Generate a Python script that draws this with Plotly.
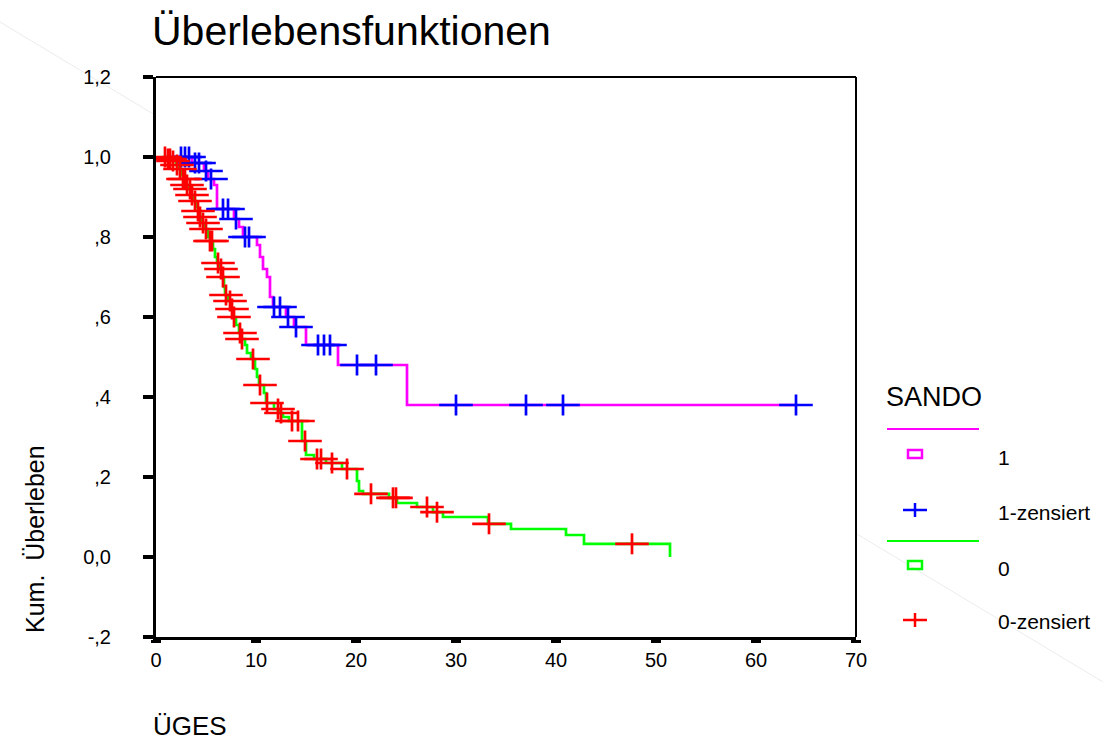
import plotly.graph_objects as go

# ---- data ----
g1_t = [2.3, 3.6, 4.8, 5.2, 5.8, 6.1, 7.8, 8.3, 8.7, 10.1, 10.4, 10.7, 11.1, 11.4, 11.7,
        13.0, 13.8, 15.0, 18.2, 25.1, 64.0]
g1_s = [1.0, 0.985, 0.965, 0.945, 0.93, 0.87, 0.845, 0.825, 0.80, 0.78, 0.75, 0.72, 0.70, 0.65, 0.625,
        0.60, 0.575, 0.53, 0.48, 0.38, 0.38]

c1_t = [2.5, 2.9, 3.3, 3.9, 4.3, 5.0, 5.5, 6.7, 7.2, 8.0, 8.9, 9.3, 11.8, 12.4, 13.2, 14.0,
        16.2, 16.8, 17.4, 20.1, 22.0, 30.0, 37.0, 40.7, 64.0]
c1_s = [1.0, 1.0, 1.0, 0.985, 0.985, 0.965, 0.945, 0.87, 0.87, 0.845, 0.80, 0.80, 0.625, 0.625, 0.60, 0.575,
        0.53, 0.53, 0.53, 0.48, 0.48, 0.38, 0.38, 0.38, 0.38]

g0_t = [0.6, 1.0, 1.6, 2.0, 2.3, 2.5, 2.7, 3.0, 3.3, 3.5, 3.8, 4.0, 4.2, 4.4, 4.6, 4.9, 5.2, 5.4,
        5.7, 5.9, 6.1, 6.4, 6.6, 6.8, 6.9, 7.2, 7.5, 7.7, 8.0, 8.3, 8.5, 8.9, 9.1, 9.5, 9.9, 10.1,
        10.3, 10.8, 11.0, 11.8, 12.4, 12.7, 13.3, 14.6, 15.0, 15.8, 17.0, 18.6, 20.1, 20.3, 20.7,
        23.3, 24.1, 26.1, 27.7, 28.7, 33.2, 35.5, 41.0, 42.8, 51.4]
g0_s = [1.0, 0.995, 0.99, 0.98, 0.97, 0.955, 0.945, 0.93, 0.92, 0.905, 0.89, 0.875, 0.865, 0.85, 0.835,
        0.82, 0.80, 0.79, 0.77, 0.75, 0.735, 0.72, 0.70, 0.675, 0.655, 0.64, 0.62, 0.60, 0.58, 0.56,
        0.545, 0.53, 0.51, 0.495, 0.47, 0.45, 0.43, 0.41, 0.385, 0.37, 0.36, 0.35, 0.34, 0.29, 0.255,
        0.245, 0.235, 0.22, 0.19, 0.165, 0.158, 0.148, 0.135, 0.125, 0.112, 0.10, 0.083, 0.07, 0.055,
        0.033, 0.0]

c0_t = [0.9, 1.2, 1.4, 1.7, 2.1, 2.4, 2.7, 2.9, 3.1, 3.4, 3.6, 3.9, 4.2, 4.4, 4.7, 5.0, 5.4, 5.6,
        6.2, 6.5, 6.7, 7.0, 7.4, 7.6, 7.8, 8.4, 8.6, 9.7, 10.4, 11.1, 12.2, 12.5, 13.6, 14.2, 14.9,
        16.1, 16.5, 17.6, 19.1, 21.5, 23.7, 24.0, 27.1, 28.1, 33.3, 47.6]
c0_s = [1.0, 0.995, 0.995, 0.99, 0.98, 0.97, 0.945, 0.945, 0.93, 0.92, 0.905, 0.89, 0.865, 0.85, 0.835,
        0.82, 0.79, 0.79, 0.735, 0.72, 0.70, 0.655, 0.64, 0.62, 0.60, 0.56, 0.545, 0.495, 0.43, 0.385,
        0.37, 0.36, 0.34, 0.34, 0.29, 0.245, 0.245, 0.235, 0.22, 0.158, 0.148, 0.148, 0.125, 0.112,
        0.083, 0.033]

y_tickvals = [1.2, 1.0, 0.8, 0.6, 0.4, 0.2, 0.0, -0.2]
y_ticktext = ["1,2", "1,0", ",8", ",6", ",4", ",2", "0,0", "-,2"]
x_tickvals = [0, 10, 20, 30, 40, 50, 60, 70]

legend_title = "SANDO"
legend_labels = ["1", "1-zensiert", "0", "0-zensiert"]

MAG, BLUE, GREEN, RED = "#FF00FF", "#0000FF", "#00FF00", "#FF0000"
FONT = "Liberation Sans, Arial, sans-serif"

fig = go.Figure()

# survival step lines
fig.add_trace(go.Scatter(x=g1_t, y=g1_s, mode="lines", line=dict(color=MAG, width=2.7, shape="hv"),
                         hoverinfo="skip", showlegend=False))
fig.add_trace(go.Scatter(x=g0_t, y=g0_s, mode="lines", line=dict(color=GREEN, width=2.7, shape="hv"),
                         hoverinfo="skip", showlegend=False))

# censor marks: wide horizontal bar + shorter vertical bar
for ct, cs, col in [(c1_t, c1_s, BLUE), (c0_t, c0_s, RED)]:
    fig.add_trace(go.Scatter(x=ct, y=cs, mode="markers",
                             marker=dict(symbol="line-ew", size=24, line=dict(color=col, width=2.7)),
                             hoverinfo="skip", showlegend=False))
    fig.add_trace(go.Scatter(x=ct, y=cs, mode="markers",
                             marker=dict(symbol="line-ns", size=15, line=dict(color=col, width=2.7)),
                             hoverinfo="skip", showlegend=False))

L, R, T, B = 156, 247, 77, 104
W, H = 1103, 741
PW, PH = W - L - R, H - T - B


def px(x):
    return (x - L) / PW


def py(y):
    return (H - B - y) / PH


shapes = []
# frame top and right
shapes.append(dict(type="line", xref="paper", yref="paper", x0=0, x1=1, y0=1, y1=1,
                   line=dict(color="black", width=2)))
shapes.append(dict(type="line", xref="paper", yref="paper", x0=1, x1=1, y0=0, y1=1,
                   line=dict(color="black", width=2)))
# faint diagonal background line (outside the plot area)
for (xa, ya, xb, yb) in [(0, 22, 155, 115), (857, 534, 1103, 682)]:
    shapes.append(dict(type="line", xref="paper", yref="paper", x0=px(xa), y0=py(ya), x1=px(xb), y1=py(yb),
                       line=dict(color="#ececec", width=1), layer="below"))

# legend graphics
lx0, lx1, mx = 887, 979, 915
for (ly, col) in [(429, MAG), (541, GREEN)]:
    shapes.append(dict(type="line", xref="paper", yref="paper", x0=px(lx0), x1=px(lx1), y0=py(ly), y1=py(ly),
                       line=dict(color=col, width=2)))
for (ry, col) in [(454, MAG), (565, GREEN)]:
    shapes.append(dict(type="rect", xref="paper", yref="paper", x0=px(mx - 7), x1=px(mx + 7),
                       y0=py(ry + 4), y1=py(ry - 4), line=dict(color=col, width=2.5)))
for (cy, col) in [(510, BLUE), (620, RED)]:
    shapes.append(dict(type="line", xref="paper", yref="paper", x0=px(mx - 12), x1=px(mx + 12),
                       y0=py(cy), y1=py(cy), line=dict(color=col, width=2.5)))
    shapes.append(dict(type="line", xref="paper", yref="paper", x0=px(mx), x1=px(mx),
                       y0=py(cy - 7), y1=py(cy + 7), line=dict(color=col, width=2.5)))

annotations = [
    dict(text="Überlebensfunktionen", xref="paper", yref="paper", x=px(150), y=py(31),
         xanchor="left", yanchor="middle", showarrow=False, font=dict(family=FONT, size=41, color="black")),
    dict(text="Kum.  Überleben", xref="paper", yref="paper", x=px(35), y=py(539), textangle=-90,
         xanchor="center", yanchor="middle", showarrow=False, font=dict(family=FONT, size=25, color="black")),
    dict(text="ÜGES", xref="paper", yref="paper", x=px(151), y=py(726),
         xanchor="left", yanchor="middle", showarrow=False, font=dict(family=FONT, size=26, color="black")),
    dict(text=legend_title, xref="paper", yref="paper", x=px(884), y=py(397),
         xanchor="left", yanchor="middle", showarrow=False, font=dict(family=FONT, size=27, color="black")),
]
for lab, ly in zip(legend_labels, [457, 512, 568, 621]):
    annotations.append(dict(text=lab, xref="paper", yref="paper", x=px(996), y=py(ly),
                            xanchor="left", yanchor="middle", showarrow=False,
                            font=dict(family=FONT, size=21, color="black")))

fig.update_layout(
    width=W, height=H,
    margin=dict(l=L, r=R, t=T, b=B, pad=0),
    paper_bgcolor="white", plot_bgcolor="white",
    showlegend=False,
    shapes=shapes, annotations=annotations,
    font=dict(family=FONT, color="black"),
    xaxis=dict(range=[0, 70], tickvals=x_tickvals, ticktext=[str(v) for v in x_tickvals],
               showgrid=False, zeroline=False, showline=True, linecolor="black", linewidth=3,
               ticks="outside", ticklen=3, tickwidth=10, tickcolor="black",
               tickfont=dict(family=FONT, size=20, color="black")),
    yaxis=dict(range=[-0.2, 1.2], tickvals=y_tickvals, ticktext=y_ticktext,
               showgrid=False, zeroline=False, showline=True, linecolor="black", linewidth=3,
               ticks="outside", ticklen=10, tickwidth=4, tickcolor="black",
               ticklabelstandoff=28,
               tickfont=dict(family=FONT, size=20, color="black")),
)

fig.write_html("out.html",
               config={"displayModeBar": False},
               post_script="document.body.style.margin='0';document.body.style.overflow='hidden';")
